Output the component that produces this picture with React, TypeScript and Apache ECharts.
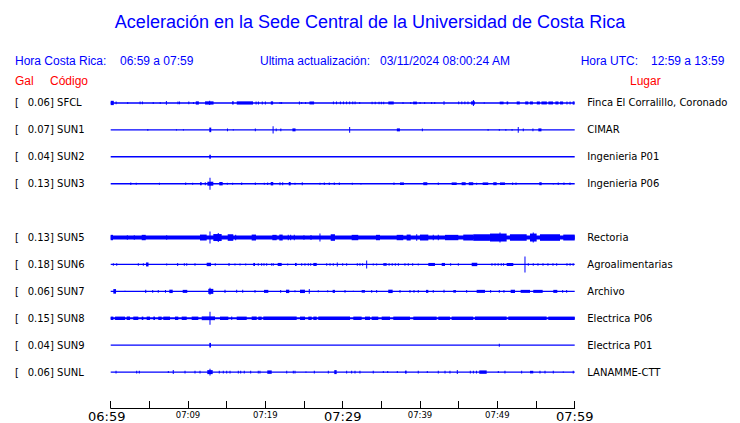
import React, { useEffect, useRef } from "react";
import * as echarts from "echarts";

// ---- data ----
const codes = ["SFCL", "SUN1", "SUN2", "SUN3", "SUN5", "SUN6", "SUN7", "SUN8", "SUN9", "SUNL"];
const galMax = [0.06, 0.07, 0.04, 0.13, 0.13, 0.18, 0.06, 0.15, 0.04, 0.06];
const places = ["Finca El Corralillo, Coronado", "CIMAR", "Ingenieria P01", "Ingenieria P06", "Rectoria", "Agroalimentarias", "Archivo", "Electrica P06", "Electrica P01", "LANAMME-CTT"];
const rowSlots = [0, 1, 2, 3, 5, 6, 7, 8, 9, 10];
// background noise level per trace (relative amplitude)
const noiseLevel = [0.25, 0.25, 0.25, 0.25, 0.74, 0.25, 0.25, 0.4, 0.25, 0.25];
const timeTickLabels = ["06:59", "", "07:09", "", "07:19", "", "07:29", "", "07:39", "", "07:49", "", "07:59"];
const majorTickLabels = ["06:59", "07:29", "07:59"];

// bursts: [minute, amplitude] or [startMinute, endMinute, amplitude]
const burstsSFCL = [[0,0.4,0.8],[0.7,0.5],[2.2,0.4],[3.8,0.5],[4.1,0.5],[5.5,0.4],[6.4,0.4],[7.2,0.7],[8.7,0.5],[8.9,0.5],[10.1,0.5],[10.7,0.4],[11.0,11.4,0.6],[12.2,13.3,0.6],[12.8,0.8],[15.7,15.9,0.6],[16.3,18.4,0.6],[18.8,0.55],[19.1,0.55],[19.6,0.55],[20.0,0.55],[20.7,21.0,0.6],[21.9,0.4],[22.1,0.4],[24.4,0.55],[24.7,0.4],[25.2,0.4],[25.7,26.3,0.55],[28.8,0.5],[29.2,0.5],[29.7,0.5],[30.1,0.5],[30.5,0.5],[30.9,0.5],[31.3,0.5],[31.6,0.5],[32.2,0.4],[33.8,0.45],[34.2,0.45],[34.7,0.45],[35.0,0.45],[35.3,0.45],[35.9,36.6,0.55],[37.8,0.4],[38.8,0.4],[39.1,39.6,0.5],[40.0,0.4],[40.6,0.4],[41.5,0.4],[41.9,0.4],[43.1,0.63],[45.0,0.5],[45.4,0.5],[45.8,0.5],[46.2,0.5],[46.6,47.1,0.6],[46.9,1.1],[48.3,0.26],[50.3,50.8,0.5],[51.2,51.4,0.55],[52.5,52.9,0.55],[53.6,54.0,0.55],[54.2,54.6,0.55],[55.1,55.5,0.55],[55.7,56.4,0.55],[56.6,57.2,0.55],[57.5,57.9,0.55],[58.1,58.5,0.55],[59.0,0.55],[59.4,0.55],[59.8,0.55],[59.9,0.63]];
const burstsSUN1 = [[4.8,0.37],[8.5,0.26],[9.4,0.26],[12.75,13.0,0.85],[15.1,0.48],[15.85,0.26],[18.7,0.48],[21.0,1.37],[21.4,0.48],[22.0,0.48],[23.5,23.9,0.55],[30.9,1.1],[37.0,37.4,0.55],[40.3,0.48],[48.8,0.37],[50.25,0.37],[51.1,0.37],[51.9,0.37],[52.7,1.1],[53.35,0.48],[54.6,0.48],[55.3,55.7,0.55]];
const burstsSUN2 = [[12.75,12.95,0.74]];
const burstsSUN3 = [[2.6,0.48],[3.3,0.37],[6.3,0.37],[9.7,0.48],[10.6,0.37],[11.55,11.77,0.55],[12.23,0.55],[12.5,13.27,0.74],[12.84,2.2],[14.04,14.48,0.63],[15.08,0.37],[15.77,0.37],[16.94,0.48],[18.7,0.48],[19.86,0.37],[20.3,0.48],[20.69,21.02,0.63],[21.89,0.55],[22.24,0.55],[23.02,23.27,0.63],[23.83,0.37],[24.77,0.55],[27.06,0.37],[27.62,0.48],[28.26,0.48],[28.91,0.48],[29.56,0.48],[31.24,0.37],[32.36,0.26],[36.63,0.48],[37.41,37.92,0.48],[40.42,40.94,0.55],[42.36,0.48],[44.09,44.74,0.48],[45.38,45.9,0.55],[46.3,46.88,0.55],[47.32,0.37],[48.1,48.82,0.48],[49.47,49.91,0.55],[50.34,50.98,0.48],[51.98,0.48],[52.41,0.48],[55.42,55.73,0.55],[57.23,0.26],[57.87,0.48],[58.61,0.48],[59.39,0.48]];
const burstsSUN5 = [[0,0.3,1.0],[2.15,0.85],[3.05,0.85],[4.01,4.53,1.0],[7.24,0.85],[11.55,12.41,1.1],[12.84,2.2],[13.27,14.35,1.3],[13.91,1.67],[15.13,15.85,1.22],[16.16,1.0],[18.23,18.79,1.1],[20.9,21.46,1.0],[21.8,22.24,1.1],[22.96,1.0],[23.27,1.0],[23.74,1.0],[24.99,0.85],[25.9,0.93],[27.06,1.48],[28.45,29.0,1.22],[31.16,32.01,1.0],[34.3,34.82,1.0],[36.98,37.83,1.0],[38.27,38.79,1.1],[39.57,1.22],[39.99,41.07,1.1],[41.71,1.0],[42.36,1.0],[43.23,44.95,1.0],[45.59,46.88,1.1],[46.88,49.04,1.22],[49.04,51.2,1.48],[50.34,1.85],[51.63,53.79,1.22],[54.22,55.08,1.48],[54.64,1.85],[55.51,58.1,1.22],[58.52,60,1.1]];
const burstsSUN6 = [[0.34,0.48],[0.78,0.48],[3.57,0.48],[4.22,0.48],[4.57,4.89,0.74],[7.24,0.37],[8.66,0.56],[9.52,0.48],[9.83,0.48],[10.9,0.48],[12.41,12.97,0.63],[13.52,0.48],[15.3,0.56],[16.07,0.37],[16.72,0.37],[17.46,0.37],[18.44,18.66,0.56],[19.08,0.48],[19.52,0.48],[19.82,0.48],[20.17,0.48],[20.82,0.48],[21.02,0.48],[21.59,22.11,0.56],[22.89,0.37],[23.83,24.05,0.56],[24.7,0.48],[25.12,0.48],[25.55,0.48],[25.86,0.48],[26.2,26.64,0.56],[27.93,0.48],[28.36,0.48],[28.78,0.48],[29.3,0.74],[30.0,0.48],[30.51,0.48],[31.89,0.48],[32.23,0.48],[32.58,0.48],[33.1,1.48],[33.95,0.37],[34.39,0.37],[35.25,35.69,0.48],[36.0,0.48],[36.4,0.48],[36.8,0.48],[37.2,0.48],[38.05,0.48],[38.48,0.48],[39.05,0.48],[39.77,0.37],[41.07,41.93,0.56],[42.8,43.23,0.56],[43.96,0.48],[44.95,0.48],[46.68,47.4,0.63],[49.3,0.48],[49.7,0.48],[50.1,0.48],[50.5,0.48],[50.8,0.48],[51.2,52.06,0.56],[53.57,3.0],[54.0,0.48],[54.64,0.48],[55.25,0.48],[55.9,0.48],[56.54,0.48],[57.19,0.48],[57.67,0.48],[59.0,0.48],[59.4,0.48],[59.8,0.48]];
const burstsSUN7 = [[0.34,0.69,0.85],[1.85,0.26],[4.53,0.63],[5.43,0.48],[6.15,0.48],[7.02,7.15,0.48],[7.58,8.02,0.63],[9.31,9.9,0.56],[12.62,13.27,0.93],[12.84,1.3],[14.78,0.63],[16.29,0.56],[17.07,0.56],[18.66,0.48],[19.82,20.38,0.56],[21.98,0.48],[22.67,23.09,0.63],[23.83,0.37],[24.48,25.12,0.63],[25.68,0.85],[26.84,0.37],[28.06,0.37],[28.7,29.0,0.56],[30.3,0.48],[31.37,0.26],[32.45,32.88,0.48],[33.75,0.48],[34.39,0.48],[35.89,36.46,0.63],[37.41,0.48],[38.7,0.48],[39.22,0.48],[39.77,0.48],[40.77,41.07,0.56],[41.71,0.48],[43.1,0.56],[44.3,44.65,0.48],[46.03,0.48],[47.32,48.4,0.56],[49.13,0.48],[50.25,0.48],[50.85,0.48],[51.72,52.28,0.63],[53.01,54.22,0.56],[54.64,55.86,0.56],[57.23,57.75,0.56],[58.44,0.48],[58.96,0.48]];
const burstsSUN8 = [[0,0.34,0.63],[0.56,1.85,0.63],[2.07,2.5,0.63],[2.92,3.57,0.63],[4.01,4.22,0.63],[4.65,5.08,0.63],[5.51,5.73,0.63],[6.15,6.59,0.63],[6.8,7.67,0.63],[8.31,8.74,0.63],[9.18,9.83,0.63],[10.47,11.33,0.63],[11.77,13.49,0.7],[12.84,2.4],[14.13,15.21,0.63],[15.65,0.63],[16.29,17.59,0.63],[18.23,18.88,0.63],[19.08,19.52,0.63],[19.73,24.05,0.63],[24.48,25.13,0.63],[25.55,25.99,0.63],[26.2,26.64,0.63],[26.84,30.95,0.63],[31.37,32.45,0.63],[32.88,33.53,0.63],[33.75,34.6,0.63],[35.04,36.12,0.63],[36.54,38.7,0.63],[39.13,42.15,0.63],[42.36,43.87,0.63],[44.09,46.88,0.63],[47.1,51.2,0.63],[51.41,56.37,0.63],[56.58,60,0.63]];
const burstsSUN9 = [[12.75,12.97,0.85],[50.25,0.56]];
const burstsSUNL = [[0.69,0.48],[3.36,0.48],[3.7,0.48],[7.45,0.37],[8.09,0.74],[9.61,0.48],[10.9,0.48],[11.55,0.48],[12.49,13.19,0.74],[12.84,1.22],[14.04,0.48],[14.56,0.48],[15.0,0.48],[15.43,0.48],[16.5,0.48],[16.81,0.48],[17.27,0.48],[18.1,0.48],[19.08,0.48],[19.3,0.48],[20.25,20.82,0.63],[22.76,0.48],[23.61,0.48],[23.83,0.48],[25.25,0.26],[26.33,0.48],[28.14,0.48],[28.91,29.22,0.74],[30.51,0.48],[31.16,0.48],[31.59,0.48],[32.23,0.48],[33.95,0.48],[35.25,0.37],[35.82,0.37],[37.06,0.37],[38.05,38.27,0.56],[39.77,0.48],[40.94,0.37],[42.36,0.48],[43.23,0.48],[43.87,0.48],[44.82,0.74],[46.5,0.48],[46.9,0.48],[47.3,0.48],[47.66,48.62,0.63],[50.12,0.37],[50.98,0.48],[53.14,0.48],[54.22,54.64,0.48],[55.51,0.48],[56.16,0.48],[57.23,0.48],[58.52,0.26],[59.81,0.48]];

const allBursts = [burstsSFCL, burstsSUN1, burstsSUN2, burstsSUN3, burstsSUN5, burstsSUN6, burstsSUN7, burstsSUN8, burstsSUN9, burstsSUNL];

const BLUE = "#0000ff";
const RED = "#ff0000";
const SANS = "'Liberation Sans', Arial, sans-serif";
const DJ = "'DejaVu Sans', sans-serif";

function buildData() {
  const out: number[][] = [];
  allBursts.forEach((list, i) => {
    const row = rowSlots[i] * 10;
    out.push([row, 0, 60, noiseLevel[i]]);
    list.forEach((b) => {
      if (b.length === 2) out.push([row, b[0], b[0], b[1]]);
      else out.push([row, b[0], b[1], b[2]]);
    });
  });
  return out;
}

function rowIndexOf(v: number) {
  return rowSlots.indexOf(Math.round(v / 10));
}

export default function App() {
  const ref = useRef<HTMLDivElement>(null);
  useEffect(() => {
    if (!ref.current) return;
    const chart = echarts.init(ref.current, null, { renderer: "svg" });
    const yCommon = {
      type: "value",
      inverse: true,
      min: -5,
      max: 113.333,
      axisLine: { show: false },
      axisTick: { show: false },
      splitLine: { show: false },
    };
    chart.setOption({
      animation: false,
      backgroundColor: "#ffffff",
      grid: { left: 110.7, top: 89.5, width: 464, height: 319.5, containLabel: false },
      xAxis: {
        type: "value",
        position: "bottom",
        min: 0,
        max: 60,
        interval: 5,
        axisLine: { show: true, onZero: false, lineStyle: { color: "#000", width: 1 } },
        axisTick: { show: true, inside: true, length: 7, lineStyle: { color: "#000", width: 1 } },
        splitLine: { show: false },
        axisLabel: {
          margin: 2,
          showMinLabel: true,
          showMaxLabel: true,
          formatter: (v: number) => {
            const idx = Math.round(v / 5);
            const lab = timeTickLabels[idx] || "";
            if (!lab) return "";
            if (idx === 0) return `{first|${lab}}`;
            return majorTickLabels.includes(lab) ? `{big|${lab}}` : `{small|${lab}}`;
          },
          rich: {
            first: { fontFamily: DJ, fontSize: 13, color: "#000", padding: [0, 8, 0, 0] },
            big: { fontFamily: DJ, fontSize: 13, color: "#000" },
            small: { fontFamily: DJ, fontSize: 8.5, color: "#000" },
          },
        },
      },
      yAxis: [
        {
          ...yCommon,
          position: "left",
          axisLabel: {
            customValues: rowSlots.map((r) => r * 10),
            align: "left",
            margin: 95.7,
            formatter: (v: number) => {
              const i = rowIndexOf(v);
              if (i < 0) return "";
              return `{b|[}{v|${galMax[i].toFixed(2)}] ${codes[i]}}`;
            },
            rich: {
              b: { width: 12.7, fontFamily: DJ, fontSize: 10, color: "#000" },
              v: { fontFamily: DJ, fontSize: 10, color: "#000" },
            },
          },
        },
        {
          ...yCommon,
          position: "right",
          axisLabel: {
            customValues: rowSlots.map((r) => r * 10),
            align: "left",
            margin: 12.6,
            fontFamily: DJ,
            fontSize: 10,
            color: "#000",
            formatter: (v: number) => {
              const i = rowIndexOf(v);
              return i < 0 ? "" : places[i];
            },
          },
        },
      ],
      graphic: [
        { type: "text", x: 370, y: 22, style: { text: "Aceleración en la Sede Central de la Universidad de Costa Rica", fill: BLUE, fontFamily: SANS, fontSize: 18, align: "center", verticalAlign: "middle" } },
        { type: "text", x: 15, y: 61, style: { text: "Hora Costa Rica:", fill: BLUE, fontFamily: SANS, fontSize: 12, verticalAlign: "middle" } },
        { type: "text", x: 120, y: 61, style: { text: "06:59 a 07:59", fill: BLUE, fontFamily: SANS, fontSize: 12, verticalAlign: "middle" } },
        { type: "text", x: 260, y: 61, style: { text: "Ultima actualización:", fill: BLUE, fontFamily: SANS, fontSize: 12, verticalAlign: "middle" } },
        { type: "text", x: 380, y: 61, style: { text: "03/11/2024 08:00:24 AM", fill: BLUE, fontFamily: SANS, fontSize: 12, verticalAlign: "middle" } },
        { type: "text", x: 580.7, y: 61, style: { text: "Hora UTC:", fill: BLUE, fontFamily: SANS, fontSize: 12, verticalAlign: "middle" } },
        { type: "text", x: 651, y: 61, style: { text: "12:59 a 13:59", fill: BLUE, fontFamily: SANS, fontSize: 12, verticalAlign: "middle" } },
        { type: "text", x: 15, y: 81, style: { text: "Gal", fill: RED, fontFamily: SANS, fontSize: 12, verticalAlign: "middle" } },
        { type: "text", x: 50, y: 81, style: { text: "Código", fill: RED, fontFamily: SANS, fontSize: 12, verticalAlign: "middle" } },
        { type: "text", x: 630, y: 81, style: { text: "Lugar", fill: RED, fontFamily: SANS, fontSize: 12, verticalAlign: "middle" } },
      ],
      series: [
        {
          type: "custom",
          xAxisIndex: 0,
          yAxisIndex: 0,
          clip: false,
          encode: { x: [1, 2], y: [0] },
          data: buildData(),
          renderItem: (params: any, api: any) => {
            const row = api.value(0);
            const t0 = api.value(1);
            const t1 = api.value(2);
            const a = api.value(3);
            const p0 = api.coord([t0, row - a]);
            const p1 = api.coord([t1, row + a]);
            let x = Math.min(p0[0], p1[0]);
            let w = Math.abs(p1[0] - p0[0]);
            if (w < 1) { x = (p0[0] + p1[0]) / 2 - 0.5; w = 1; }
            let y = Math.min(p0[1], p1[1]);
            let h = Math.abs(p1[1] - p0[1]);
            if (h < 1) { y = (p0[1] + p1[1]) / 2 - 0.5; h = 1; }
            return { type: "rect", shape: { x, y, width: w, height: h }, style: { fill: BLUE } };
          },
        },
      ],
    });
    return () => chart.dispose();
  }, []);
  return (
    <div
      ref={ref}
      style={{ position: "fixed", left: 0, top: 0, width: 740, height: 423, background: "#fff" }}
    />
  );
}
